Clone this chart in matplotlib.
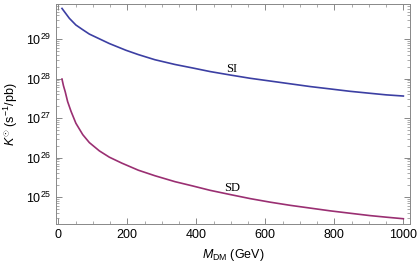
import numpy as np
import matplotlib.pyplot as plt
from matplotlib.ticker import LogLocator, MultipleLocator, NullFormatter

# values (log10 of K)
m_si = [10.7, 32, 51, 71, 90, 119, 148, 196, 232, 280, 338, 390, 440, 500,
        556, 614, 672, 730, 788, 845, 903, 950, 1000]
logk_si = [29.78, 29.53, 29.36, 29.24, 29.13, 29.01, 28.89, 28.72, 28.61, 28.48, 28.36, 28.27, 28.18, 28.09,
           28.01, 27.94, 27.87, 27.80, 27.74, 27.68, 27.63, 27.59, 27.56]

m_sd = [10.7, 15, 20, 27, 37, 51, 71, 90, 119, 148, 184, 232, 280, 338, 390, 440, 500,
        556, 614, 672, 730, 788, 845, 903, 950, 1000]
logk_sd = [27.99, 27.82, 27.67, 27.42, 27.17, 26.87, 26.58, 26.38, 26.17, 26.01, 25.86, 25.68, 25.54, 25.39, 25.28, 25.17, 25.06,
           24.96, 24.87, 24.79, 24.72, 24.65, 24.59, 24.53, 24.49, 24.45]

plt.rcParams['font.family'] = ['Liberation Sans', 'DejaVu Sans']
plt.rcParams['mathtext.fontset'] = 'custom'
plt.rcParams['mathtext.rm'] = 'Liberation Sans'
plt.rcParams['mathtext.it'] = 'Liberation Sans:italic'

fig = plt.figure(figsize=(4.17, 2.64), dpi=100)
ax = fig.add_axes([0.134, 0.152, 0.849, 0.831])

ax.plot(m_si, 10 ** np.array(logk_si), color='#3c3fa3', lw=1.2)
ax.plot(m_sd, 10 ** np.array(logk_sd), color='#9a2f72', lw=1.2)

ax.set_yscale('log')
ax.set_xlim(-7, 1019)
ax.set_ylim(10 ** 24.32, 10 ** 29.88)

ax.text(503, 10 ** 28.24, 'SI', family='Liberation Serif', fontsize=9, ha='center', va='center')
ax.text(503, 10 ** 25.23, 'SD', family='Liberation Serif', fontsize=9, ha='center', va='center')

ax.xaxis.set_major_locator(MultipleLocator(200))
ax.xaxis.set_minor_locator(MultipleLocator(50))
ax.yaxis.set_major_locator(LogLocator(base=10, numticks=20))
ax.yaxis.set_minor_locator(LogLocator(base=10, subs=np.arange(2, 10), numticks=20))
ax.yaxis.set_minor_formatter(NullFormatter())

ax.tick_params(which='both', direction='in', top=True, right=True, color='#888888', labelsize=9)
ax.tick_params(which='major', length=4, width=0.7)
ax.tick_params(which='minor', length=2, width=0.5)
for s in ax.spines.values():
    s.set_color('#888888')
    s.set_linewidth(0.7)

ax.set_xlabel(r'$M_{\rm DM}$ (GeV)', fontsize=9, labelpad=4.5)
ax.set_ylabel(r'$K^{\odot}$ (s$^{-1}$/pb)', fontsize=9, labelpad=4)

fig.savefig('out.png', dpi=100)
